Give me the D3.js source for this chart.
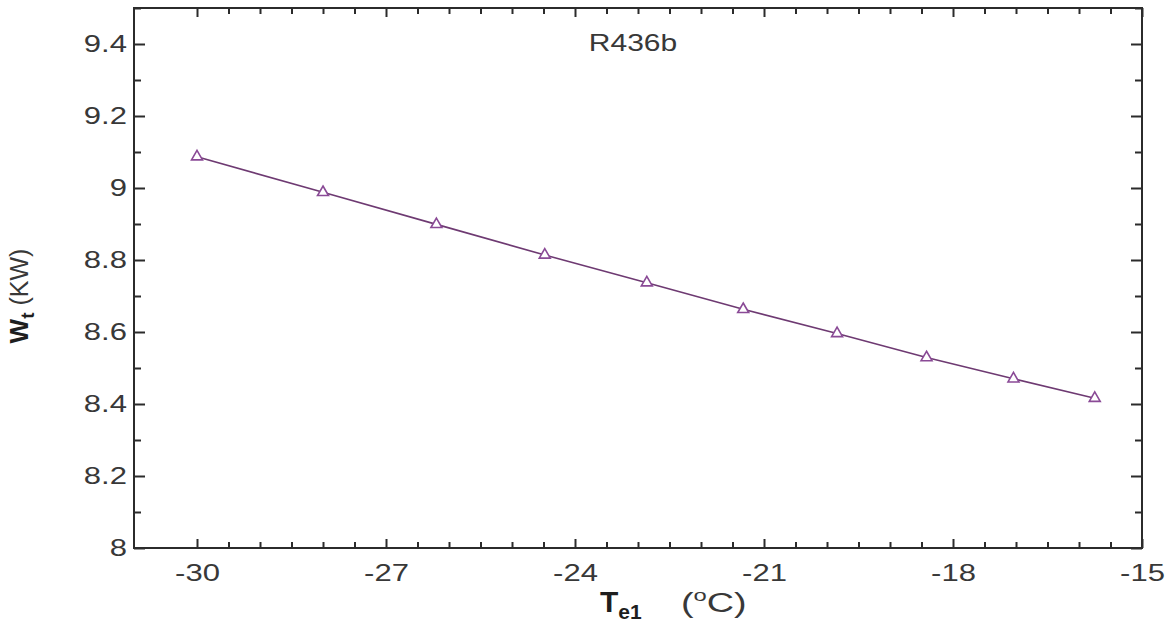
<!DOCTYPE html>
<html><head><meta charset="utf-8">
<script src="https://cdn.jsdelivr.net/npm/d3@7"></script>
<style>body{margin:0;background:#fff}svg{display:block}text{font-family:"Liberation Sans",Arial,sans-serif}</style>
</head><body>
<svg id="c" width="1175" height="625"></svg>
<script>
const temps = [-30, -28, -26.2, -24.48, -22.86, -21.33, -19.84, -18.42, -17.04, -15.75];
const power = [9.087, 8.988, 8.899, 8.814, 8.737, 8.663, 8.596, 8.529, 8.470, 8.416];
const xTickLabels = [-30, -27, -24, -21, -18, -15];
const yTickLabels = [8, 8.2, 8.4, 8.6, 8.8, 9, 9.2, 9.4];
const seriesName = "R436b";

const svg = d3.select("#c");
const L = 134, R = 1142, T = 8, B = 548;
const x = d3.scaleLinear().domain([-31, -15]).range([L, R]);
const y = d3.scaleLinear().domain([8, 9.5]).range([B, T]);
const axisCol = "#2b2b2b";
const textCol = "#383838";
const SX = 1.35;

const xMinor = d3.range(-30, -15 + 0.001, 0.5).filter(v => !xTickLabels.some(t => Math.abs(t - v) < 1e-6));
const yMinor = d3.range(8.1, 9.5, 0.2).map(v => +v.toFixed(1));

function styleAxis(g){ g.select(".domain").remove(); g.selectAll("line").attr("stroke", axisCol).attr("stroke-width", 2); }

// bottom
svg.append("g").attr("transform", `translate(0,${B})`)
  .call(d3.axisBottom(x).tickValues(xTickLabels).tickSize(-9).tickPadding(17).tickFormat(d => String(d)))
  .call(styleAxis)
  .call(g => g.selectAll("text").attr("font-size", 23).attr("fill", textCol).attr("transform", `scale(${SX},1)`));
svg.append("g").attr("transform", `translate(0,${B})`)
  .call(d3.axisBottom(x).tickValues(xMinor).tickSize(-6).tickFormat(""))
  .call(styleAxis);
// top
svg.append("g").attr("transform", `translate(0,${T})`)
  .call(d3.axisTop(x).tickValues(xTickLabels).tickSize(-9).tickFormat(""))
  .call(styleAxis);
svg.append("g").attr("transform", `translate(0,${T})`)
  .call(d3.axisTop(x).tickValues(xMinor).tickSize(-6).tickFormat(""))
  .call(styleAxis);
// left
svg.append("g").attr("transform", `translate(${L},0)`)
  .call(d3.axisLeft(y).tickValues(yTickLabels).tickSize(-11).tickPadding(5.2).tickFormat(d => String(d)))
  .call(styleAxis)
  .call(g => g.selectAll("text").attr("font-size", 23).attr("fill", textCol).attr("transform", `scale(${SX},1)`));
svg.append("g").attr("transform", `translate(${L},0)`)
  .call(d3.axisLeft(y).tickValues(yMinor).tickSize(-7).tickFormat(""))
  .call(styleAxis);
// right
svg.append("g").attr("transform", `translate(${R},0)`)
  .call(d3.axisRight(y).tickValues(yTickLabels).tickSize(-11).tickFormat(""))
  .call(styleAxis);
svg.append("g").attr("transform", `translate(${R},0)`)
  .call(d3.axisRight(y).tickValues(yMinor).tickSize(-7).tickFormat(""))
  .call(styleAxis);

// frame
svg.append("rect").attr("x", L).attr("y", T).attr("width", R - L).attr("height", B - T)
  .attr("fill", "none").attr("stroke", axisCol).attr("stroke-width", 2);

// data
const data = temps.map((t, i) => ({t, p: power[i]}));
const lineCol = "#6e3a72";
svg.append("path").datum(data)
  .attr("d", d3.line().x(d => x(d.t)).y(d => y(d.p)))
  .attr("fill", "none").attr("stroke", lineCol).attr("stroke-width", 1.6);
const tri = d3.symbol().type(d3.symbolTriangle).size(52);
svg.selectAll(".m").data(data).join("path")
  .attr("transform", d => `translate(${x(d.t)},${y(d.p)})`)
  .attr("d", tri).attr("fill", "#fff").attr("stroke", "#8a4a96").attr("stroke-width", 1.6);

// series label
svg.append("text").attr("transform", `translate(633,51) scale(1.25,1)`).attr("text-anchor", "middle")
  .attr("font-size", 24).attr("fill", textCol).text(seriesName);

// x title
const xt = svg.append("text").attr("x", 600).attr("y", 612).attr("fill", "#1e1e1e");
xt.append("tspan").attr("font-size", 30).attr("font-weight", "bold").text("T");
xt.append("tspan").attr("font-size", 21).attr("font-weight", "bold").attr("dy", 7).text("e1");
const xu = svg.append("text").attr("transform", "translate(681,612) scale(1.4,1)").attr("fill", textCol);
xu.append("tspan").attr("font-size", 27).text("(");
xu.append("tspan").attr("font-size", 17).attr("dy", -11).text("o");
xu.append("tspan").attr("font-size", 27).attr("dy", 11).text("C)");

// y title
const yt = svg.append("text").attr("transform", "translate(28,296) rotate(-90)").attr("text-anchor", "middle").attr("fill", "#1e1e1e");
yt.append("tspan").attr("font-size", 26).attr("font-weight", "bold").text("W");
yt.append("tspan").attr("font-size", 19).attr("font-weight", "bold").attr("dy", 6).text("t");
yt.append("tspan").attr("font-size", 25).attr("dy", -6).attr("dx", 7).attr("fill", textCol).text("(KW)");
</script>
</body></html>
